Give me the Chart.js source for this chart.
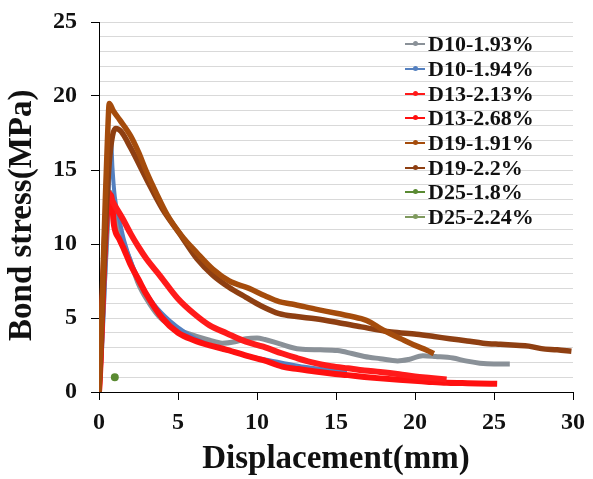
<!DOCTYPE html>
<html>
<head>
<meta charset="utf-8">
<script src="https://cdn.jsdelivr.net/npm/chart.js@4.4.0/dist/chart.umd.min.js"></script>
<style>
  html, body { margin: 0; padding: 0; background: #fff; }
  #wrap { position: relative; width: 593px; height: 479px; }
  #legend { position: absolute; left: 405px; top: 32px; font-family: "Liberation Serif", "Times New Roman", serif; font-weight: bold; font-size: 22px; color: #111; }
  .row { height: 24.7px; line-height: 24px; display: flex; align-items: center; white-space: nowrap; }
  .icon { position: relative; width: 20px; height: 2px; margin-right: 3px; }
  .icon i { position: absolute; left: 8px; top: -2px; width: 5px; height: 5px; border-radius: 50%; }
</style>
</head>
<body>
<div id="wrap">
  <canvas id="bondChart" width="593" height="479"></canvas>
  <div id="legend"></div>
</div>
<script>
// Series names and colours
const seriesNames = ["D10-1.93%", "D10-1.94%", "D13-2.13%", "D13-2.68%", "D19-1.91%", "D19-2.2%", "D25-1.8%", "D25-2.24%"];
const seriesColors = ["#8a9198", "#5480c0", "#ff1a1a", "#ff1010", "#a54c0c", "#8e3f12", "#5a8a32", "#7f9a5e"];

// D10-1.93%
const d10a_x = [0, 0.15, 0.35, 0.55, 0.7, 0.9, 1.2, 1.5, 2.0, 2.5, 3.0, 3.8, 5.0, 5.8, 7.0, 7.8, 8.6, 9.3, 10.0, 10.5, 11.4, 12.7, 14.0, 15.1, 16.0, 16.8, 17.8, 18.9, 19.6, 20.5, 21.3, 22.4, 23.2, 24.1, 25.0, 26.0];
const d10a_y = [0, 3.0, 7.5, 11.5, 13.5, 12.6, 11.2, 10.2, 8.8, 7.3, 6.3, 5.1, 4.2, 3.9, 3.5, 3.3, 3.4, 3.6, 3.65, 3.55, 3.27, 2.9, 2.85, 2.8, 2.6, 2.4, 2.25, 2.1, 2.2, 2.45, 2.4, 2.3, 2.1, 1.95, 1.9, 1.9];

// D10-1.94%
const d10b_x = [0, 0.2, 0.4, 0.6, 0.75, 0.85, 1.0, 1.3, 1.6, 2.1, 2.8, 3.5, 4.5, 5.5, 6.5, 7.5, 8.5, 10.0, 11.5, 13.0, 14.5, 15.7];
const d10b_y = [0, 3, 8, 13, 17.3, 15.2, 13.2, 11.6, 10.2, 8.6, 7.0, 5.9, 4.8, 4.0, 3.4, 3.0, 2.7, 2.3, 2.0, 1.7, 1.5, 1.4];

// D13-2.13%
const d13a_x = [0, 0.1, 0.25, 0.4, 0.6, 0.8, 1.0, 1.5, 2.0, 2.5, 3.0, 3.9, 5.0, 6.0, 7.0, 8.1, 9.3, 10.4, 11.6, 12.5, 13.7, 14.7, 15.75, 16.8, 17.8, 19.0, 20.0, 21.0, 22.0];
const d13a_y = [0, 2, 7, 11, 13.5, 13.0, 12.6, 11.7, 10.7, 9.8, 9.0, 7.8, 6.3, 5.3, 4.5, 3.96, 3.4, 3.06, 2.6, 2.3, 1.95, 1.75, 1.6, 1.45, 1.35, 1.2, 1.05, 0.95, 0.85];

// D13-2.68%
const d13b_x = [0, 0.1, 0.3, 0.5, 0.75, 0.96, 1.3, 1.6, 2.0, 2.5, 3.0, 4.0, 5.0, 6.0, 7.0, 8.1, 9.5, 10.4, 11.6, 12.6, 13.7, 14.7, 15.75, 16.8, 17.8, 19.0, 20.75, 22.0, 23.0, 24.0, 25.2];
const d13b_y = [0, 2.5, 8, 12, 13.3, 11.2, 10.3, 9.6, 8.6, 7.6, 6.6, 5.0, 4.0, 3.5, 3.15, 2.85, 2.4, 2.15, 1.72, 1.55, 1.38, 1.25, 1.14, 1.02, 0.92, 0.82, 0.7, 0.62, 0.6, 0.58, 0.55];

// D19-1.91%
const d19a_x = [0, 0.1, 0.25, 0.4, 0.55, 0.65, 0.9, 1.3, 2.0, 2.5, 3.0, 3.6, 4.3, 5.2, 6.2, 7.2, 8.25, 9.5, 10.5, 11.4, 12.2, 13.7, 15.1, 16.6, 17.2, 17.8, 18.5, 19.3, 20.0, 20.75, 21.2];
const d19a_y = [0, 3, 8, 13, 17.5, 19.5, 19.0, 18.4, 17.3, 16.2, 14.9, 13.5, 12.0, 10.6, 9.4, 8.3, 7.5, 7.0, 6.5, 6.1, 5.95, 5.6, 5.3, 4.95, 4.7, 4.3, 3.9, 3.5, 3.15, 2.82, 2.6];

// D19-2.2%
const d19b_x = [0, 0.1, 0.25, 0.45, 0.65, 0.85, 1.06, 1.4, 2.0, 3.0, 4.0, 5.1, 6.2, 7.2, 8.2, 9.3, 10.3, 11.4, 12.5, 13.7, 15.1, 16.6, 18.5, 20.1, 21.2, 22.2, 23.3, 24.3, 25.4, 26.4, 27.2, 28.0, 29.0, 29.9];
const d19b_y = [0, 2.5, 7, 12, 15.5, 17.3, 17.8, 17.6, 16.5, 14.4, 12.4, 10.7, 9.0, 7.9, 7.1, 6.4, 5.8, 5.3, 5.1, 4.95, 4.7, 4.4, 4.05, 3.9, 3.75, 3.6, 3.45, 3.3, 3.22, 3.16, 3.1, 2.93, 2.85, 2.75];

// D25-1.8% (single visible point), D25-2.24% (nothing visible)
const d25a_x = [1.0];
const d25a_y = [1.0];
const d25b_x = [];
const d25b_y = [];

// Axis ticks
const xTicks = [0, 5, 10, 15, 20, 25, 30];
const yTicks = [0, 5, 10, 15, 20, 25];

const serif = '"Liberation Serif", "Times New Roman", serif';

function toPoints(xs, ys) {
    return xs.map((x, i) => ({ x, y: ys[i] }));
}

function curve(i, xs, ys, width, order) {
    return {
        label: seriesNames[i],
        data: toPoints(xs, ys),
        borderColor: seriesColors[i],
        backgroundColor: seriesColors[i],
        borderWidth: width,
        pointRadius: 0,
        cubicInterpolationMode: 'monotone',
        fill: false,
        order
    };
}

const datasets = [
    curve(0, d10a_x, d10a_y, 5, 5),
    curve(1, d10b_x, d10b_y, 4, 4),
    curve(2, d13a_x, d13a_y, 6, 3),
    curve(3, d13b_x, d13b_y, 6, 3),
    curve(4, d19a_x, d19a_y, 5.5, 1),
    curve(5, d19b_x, d19b_y, 5.5, 1),
    Object.assign(curve(6, d25a_x, d25a_y, 2, 0), { pointRadius: 3, showLine: false }),
    Object.assign(curve(7, d25b_x, d25b_y, 2, 0), { pointRadius: 3, showLine: false })
];

new Chart(document.getElementById('bondChart').getContext('2d'), {
    type: 'line',
    data: { datasets },
    options: {
        responsive: false,
        animation: false,
        layout: { padding: { top: 22, right: 15, bottom: 0, left: 0 } },
        plugins: { legend: { display: false }, tooltip: { enabled: false } },
        scales: {
            x: {
                type: 'linear',
                min: 0, max: 30,
                afterFit: s => { s.height = 87; },
                afterBuildTicks: s => { s.ticks = xTicks.map(v => ({ value: v })); },
                ticks: { color: '#111', padding: 8, autoSkip: false, maxRotation: 0, font: { family: serif, size: 24, weight: 'bold' } },
                grid: { drawOnChartArea: false, tickColor: '#000', tickLength: 8 },
                border: { color: '#000', width: 1 },
                title: { display: true, text: 'Displacement(mm)', color: '#111', padding: { top: 0, bottom: 0 }, font: { family: serif, size: 33, weight: 'bold' } }
            },
            y: {
                min: 0, max: 25,
                afterFit: s => { s.width = 99; s.paddingTop = 0; s.paddingBottom = 0; },
                ticks: {
                    stepSize: 1,
                    autoSkip: false,
                    color: '#111',
                    padding: 14,
                    font: { family: serif, size: 24, weight: 'bold' },
                    callback: v => yTicks.includes(v) ? v : ''
                },
                grid: {
                    color: '#d9d9d9',
                    tickLength: 8,
                    tickColor: c => yTicks.includes(c.tick.value) ? '#000' : 'rgba(0,0,0,0)'
                },
                border: { color: '#000', width: 1 },
                title: { display: true, text: 'Bond stress(MPa)\u2002', color: '#111', padding: { top: 3, bottom: 0 }, font: { family: serif, size: 33, weight: 'bold' } }
            }
        }
    }
});

// Legend inside the plot, top right
const legend = document.getElementById('legend');
seriesNames.forEach((name, i) => {
    const row = document.createElement('div');
    row.className = 'row';
    row.innerHTML = `<span class="icon" style="background:${seriesColors[i]}"><i style="background:${seriesColors[i]}"></i></span>${name}`;
    legend.appendChild(row);
});
</script>
</body>
</html>
